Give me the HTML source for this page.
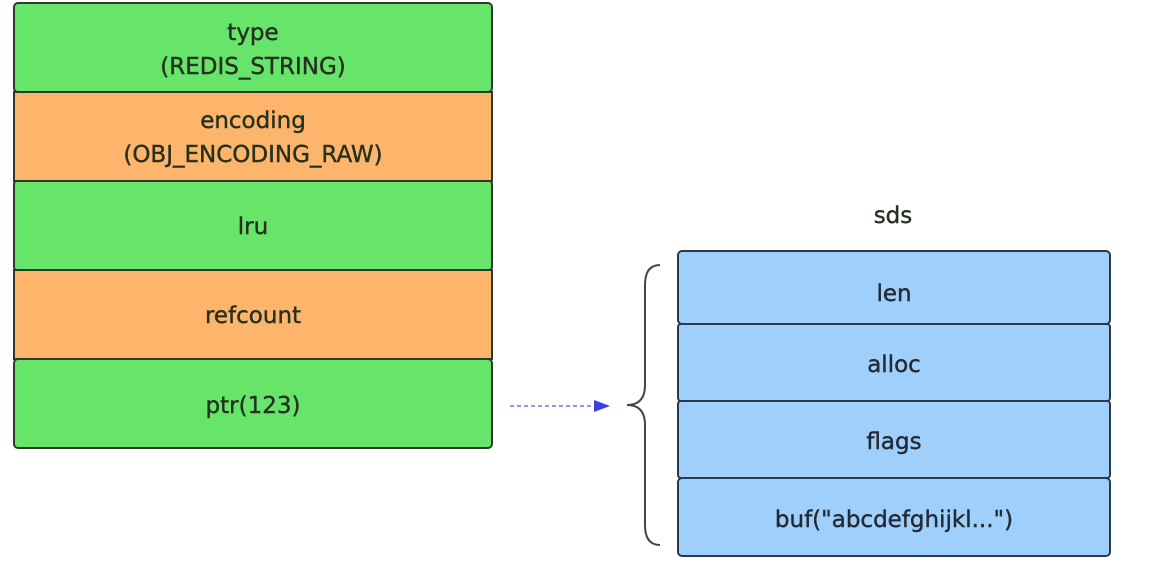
<!DOCTYPE html>
<html><head><style>body{margin:0;background:#fff;}svg{display:block}</style></head>
<body>
<svg width="1170" height="568" viewBox="0 0 1170 568" xmlns="http://www.w3.org/2000/svg" font-family="'Comic Sans MS','DejaVu Sans','Liberation Sans',sans-serif" font-size="23" fill="#333">
<g stroke="#2b3a2b" stroke-width="2">
<rect x="14" y="3" width="478" height="89" rx="4" fill="#67e56b"/>
<rect x="14" y="92" width="478" height="89" fill="#fdb56b"/>
<rect x="14" y="181" width="478" height="89" rx="3" fill="#67e56b"/>
<rect x="14" y="270" width="478" height="89" fill="#fdb56b"/>
<rect x="14" y="359" width="478" height="89" rx="4" fill="#67e56b"/>
</g>
<g text-anchor="middle" fill="#26301f" stroke="#26301f" stroke-width="0.4">
<text x="253" y="40">type</text>
<text x="253" y="74">(REDIS_STRING)</text>
<text x="253" y="128">encoding</text>
<text x="253" y="162">(OBJ_ENCODING_RAW)</text>
<text x="253" y="234">lru</text>
<text x="253" y="323">refcount</text>
<text x="253" y="413">ptr(123)</text>
<text x="893" y="223">sds</text>
</g>
<g stroke="#2b3a4a" stroke-width="2" fill="#9fcffb">
<rect x="678" y="251" width="432" height="73" rx="4"/>
<rect x="678" y="324" width="432" height="77" rx="3"/>
<rect x="678" y="401" width="432" height="77" rx="3"/>
<rect x="678" y="478" width="432" height="78" rx="4"/>
</g>
<g text-anchor="middle" fill="#222a35" stroke="#222a35" stroke-width="0.4">
<text x="894" y="301">len</text>
<text x="894" y="372">alloc</text>
<text x="894" y="449">flags</text>
<text x="894" y="527">buf("abcdefghijkl...")</text>
</g>
<line x1="510" y1="406" x2="596" y2="406" stroke="#7070ee" stroke-width="1.5" stroke-dasharray="4,3"/>
<polygon points="594,400 610,406 594,412" fill="#3f3fe6"/>
<path d="M660,265 Q645,265 645,285 L645,385 Q645,405 627,405 Q645,405 645,425 L645,525 Q645,545 660,545" fill="none" stroke="#444" stroke-width="2"/>
</svg>
</body></html>
